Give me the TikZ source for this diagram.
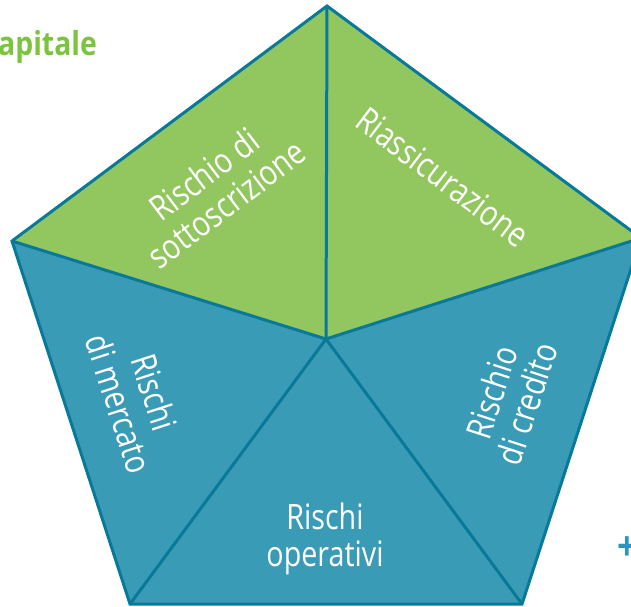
\documentclass[tikz,border=0pt]{standalone}
\usepackage{fontspec}
\setmainfont{Open Sans}[FakeStretch=0.82]
\newfontfamily\headfont{Open Sans}[FakeStretch=0.86]
\definecolor{leafgreen}{RGB}{146,199,95}
\definecolor{seablue}{RGB}{58,155,183}
\definecolor{rimteal}{RGB}{8,121,152}
\definecolor{titlegreen}{RGB}{124,196,64}
\definecolor{plusblue}{RGB}{40,150,190}
\begin{document}
\begin{tikzpicture}[x=1pt,y=-1pt,
  lbl/.style={text=white, font=\fontsize{35}{37}\selectfont, align=center, inner sep=0pt},
  rim/.style={draw=rimteal, line width=3pt, line join=miter}]
\useasboundingbox (0,0) rectangle (631,606);
\clip (0,0) rectangle (631,606);
\coordinate (T) at (327,6);
\coordinate (L) at (12,241);
\coordinate (R) at (641,238);
\coordinate (BL) at (130,604);
\coordinate (BR) at (522,604);
\coordinate (C) at (326,339);
% faces
\fill[leafgreen] (T) -- (L) -- (C) -- cycle;
\fill[leafgreen] (T) -- (R) -- (C) -- cycle;
\fill[seablue] (L) -- (BL) -- (C) -- cycle;
\fill[seablue] (BL) -- (BR) -- (C) -- cycle;
\fill[seablue] (BR) -- (R) -- (C) -- cycle;
% outline and spokes
\draw[rim] (T) -- (R) -- (BR) -- (BL) -- (L) -- cycle;
\draw[rim] (C) -- (T);
\draw[rim] (C) -- (L);
\draw[rim] (C) -- (R);
\draw[rim] (C) -- (BL);
\draw[rim] (C) -- (BR);
% labels
\node[lbl, rotate=37] (sott) at (215,189) {Rischio di\\sottoscrizione};
\node[lbl, rotate=-37] (riass) at (443,177) {Riassicurazione};
\node[lbl, rotate=-72] (merc) at (137,398) {Rischi\\di mercato};
\node[lbl, rotate=72] (cred) at (509,398) {Rischio\\di credito};
\node[lbl] (oper) at (325,539) {Rischi\\operativi};
% cut-off texts
\node[anchor=base west, inner sep=0pt, text=titlegreen, font=\headfont\bfseries\fontsize{33}{36}\selectfont] (cap) at (-2,55) {apitale};
\node[inner sep=0pt, text=plusblue, font=\headfont\bfseries\fontsize{40}{40}\selectfont] (plus) at (627,549) {+};
\end{tikzpicture}
\end{document}
